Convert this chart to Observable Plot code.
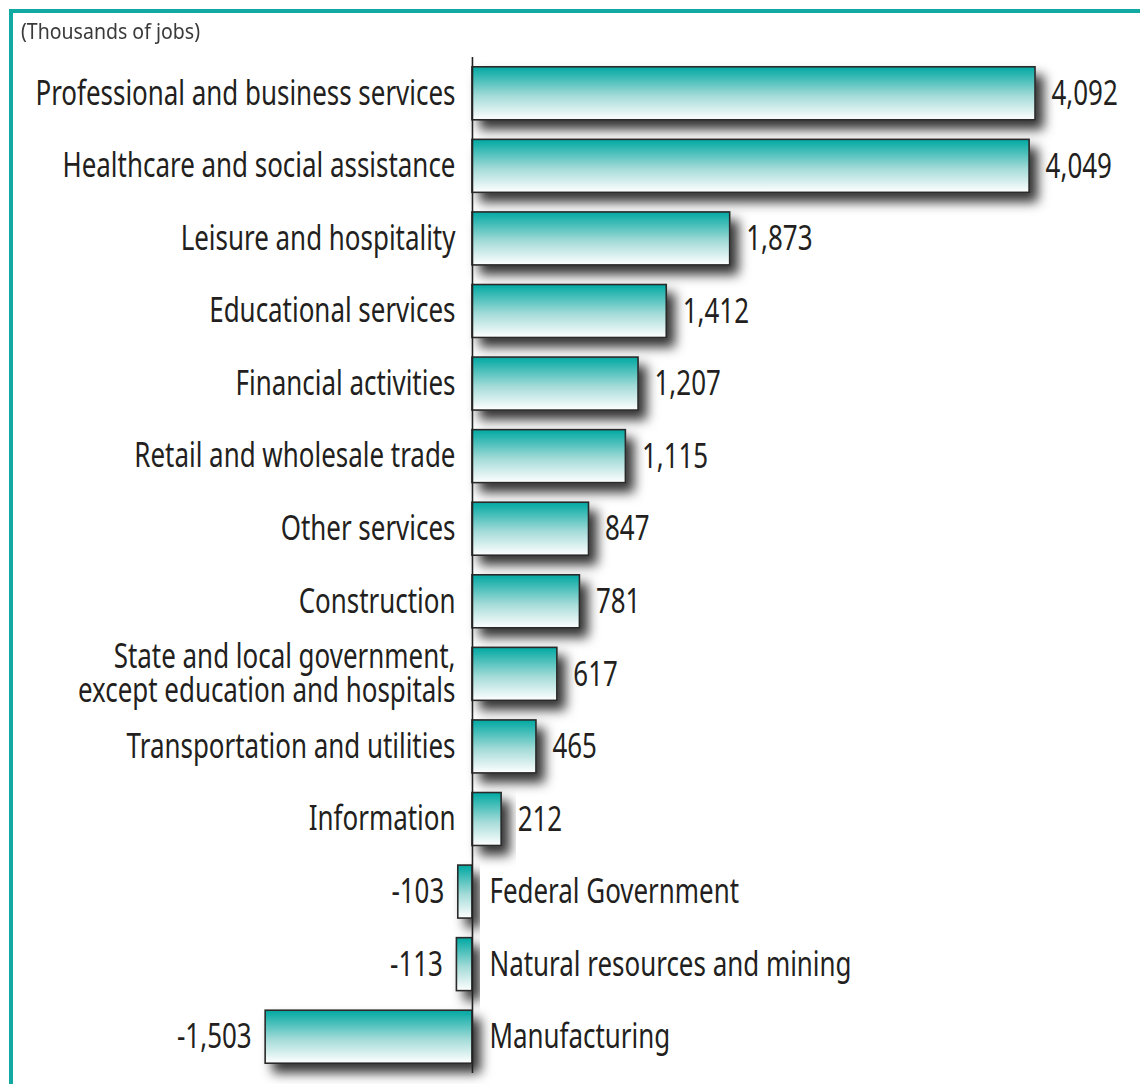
<!DOCTYPE html>
<html>
<head>
<meta charset="utf-8">
<script src="https://cdn.jsdelivr.net/npm/d3@7"></script>
<script src="https://cdn.jsdelivr.net/npm/@observablehq/plot@0.6"></script>
<style>
  html, body { margin: 0; padding: 0; background: #fff; }
  #wrap { position: relative; width: 1140px; height: 1084px; overflow: hidden;
          font-family: "Noto Sans", "DejaVu Sans Condensed", sans-serif; font-stretch: condensed; }
  #frame { position: absolute; left: 9px; top: 9px; width: 1131px; height: 1075px;
           border-top: 4px solid #12a9a3; border-left: 4px solid #12a9a3; box-sizing: border-box; }
  #sub { position: absolute; left: 21px; top: 17px; font-size: 21px; color: #3a3a3a; white-space: nowrap; transform-origin: 0 0; }
  #chart { position: absolute; left: 0; top: 50px; }
  #chart svg text { font-stretch: condensed; }
</style>
</head>
<body>
<div id="wrap">
  <div id="frame"></div>
  <div id="sub"><span id="subtxt">(Thousands of jobs)</span></div>
  <div id="chart"></div>
</div>
<script>
const categories = [
  "Professional and business services",
  "Healthcare and social assistance",
  "Leisure and hospitality",
  "Educational services",
  "Financial activities",
  "Retail and wholesale trade",
  "Other services",
  "Construction",
  "State and local government,\nexcept education and hospitals",
  "Transportation and utilities",
  "Information",
  "Federal Government",
  "Natural resources and mining",
  "Manufacturing"
];
const values = [4092, 4049, 1873, 1412, 1207, 1115, 847, 781, 617, 465, 212, -103, -113, -1503];

const data = categories.map((c, i) => ({category: c, value: values[i]}));
const fmt = v => d3.format(",")(v).replace("\u2212", "-");
const font = '"Noto Sans", "DejaVu Sans Condensed", sans-serif';
const FS = 35;

const svg = Plot.plot({
  width: 1140,
  height: 1034,
  marginLeft: 0,
  marginRight: 0,
  marginTop: 7,
  marginBottom: 11,
  style: {fontFamily: font, background: "transparent", overflow: "visible"},
  x: {domain: [-3430, 4855], axis: null},
  y: {domain: categories, axis: null, paddingInner: 0.27, paddingOuter: 0.135, round: false},
  marks: [
    Plot.barX(data, {x: "value", y: "category", fill: "url(#barGrad)", stroke: "#2a2a2a", strokeWidth: 1.6, className: "bars"}),
    Plot.ruleX([0], {stroke: "#222", strokeWidth: 1.6}),
    Plot.text(data.filter(d => d.value >= 0), {x: 0, y: "category", text: "category", textAnchor: "end", dx: -17, fontSize: FS, fill: "#231f20", lineHeight: 0.96, className: "lbl"}),
    Plot.text(data.filter(d => d.value < 0), {x: 0, y: "category", text: "category", textAnchor: "start", dx: 17, fontSize: FS, fill: "#231f20", className: "lbl"}),
    Plot.text(data.filter(d => d.value >= 0), {x: "value", y: "category", text: d => fmt(d.value), textAnchor: "start", dx: 16, fontSize: FS, fill: "#231f20", className: "lbl"}),
    Plot.text(data.filter(d => d.value < 0), {x: "value", y: "category", text: d => fmt(d.value), textAnchor: "end", dx: -14, fontSize: FS, fill: "#231f20", className: "lbl"})
  ]
});

const s = d3.select(svg);
const defs = s.insert("defs", ":first-child");
const grad = defs.append("linearGradient").attr("id", "barGrad")
  .attr("x1", 0).attr("y1", 0).attr("x2", 0).attr("y2", 1);
grad.append("stop").attr("offset", "0%").attr("stop-color", "#00a8a2");
grad.append("stop").attr("offset", "55%").attr("stop-color", "#a3dbd8");
grad.append("stop").attr("offset", "100%").attr("stop-color", "#ffffff");
const filt = defs.append("filter").attr("id", "shadow")
  .attr("x", "-40%").attr("y", "-60%").attr("width", "190%").attr("height", "260%");
filt.append("feDropShadow").attr("dx", 8).attr("dy", 9).attr("stdDeviation", 6)
  .attr("flood-color", "#000").attr("flood-opacity", 0.8);
s.selectAll("g.bars rect").attr("filter", "url(#shadow)");

document.getElementById("chart").appendChild(svg);

// Condense text to match the reference's condensed typeface
const ref = s.selectAll("g.lbl text").nodes().find(n => n.textContent === categories[0]);
const natural = ref.getComputedTextLength();
const factor = Math.min(1, 420 / natural);
s.selectAll("g.lbl text").each(function() {
  const tspans = this.querySelectorAll("tspan");
  const items = tspans.length ? Array.from(tspans) : [this];
  items.forEach(el => {
    const len = el.getComputedTextLength();
    el.setAttribute("textLength", (len * factor).toFixed(2));
    el.setAttribute("lengthAdjust", "spacingAndGlyphs");
  });
});
const subW = document.getElementById("subtxt").getBoundingClientRect().width;
document.getElementById("sub").style.transform = `scaleX(${Math.min(1.2, 179 / subW)})`;
</script>
</body>
</html>
